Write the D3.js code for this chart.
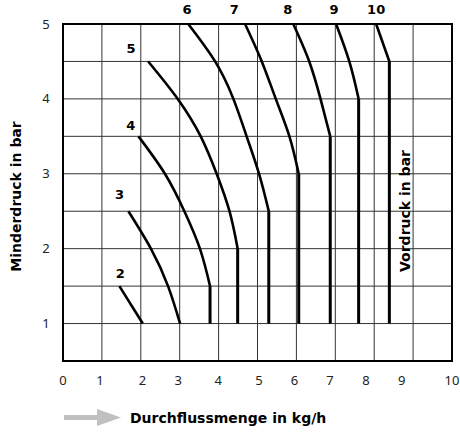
<!DOCTYPE html>
<html>
<head>
<meta charset="utf-8">
<script src="https://cdn.jsdelivr.net/npm/d3@7"></script>
<style>
    body { margin: 0; background: #fff; }
    #chart { width: 460px; height: 432px; }
    text { font-family: "DejaVu Sans", sans-serif; }
</style>
</head>
<body>
<div id="chart"></div>
<script>
// Vordruck (inlet pressure) per curve, in bar
const inletPressures = ["2", "3", "4", "5", "6", "7", "8", "9", "10"];

// flow (kg/h) along each curve, from its upper end down to the kink
const curveFlows = [
    [1.45, 2.05],
    [1.68, 2.26, 2.70, 3.01],
    [1.94, 2.62, 3.12, 3.52, 3.78],
    [2.19, 2.95, 3.54, 3.95, 4.28, 4.49],
    [3.22, 3.91, 4.38, 4.72, 5.04, 5.29],
    [4.68, 5.11, 5.47, 5.82, 6.06],
    [5.92, 6.33, 6.62, 6.87],
    [7.02, 7.36, 7.60],
    [8.05, 8.39]
];

// Minderdruck (outlet pressure) at the same points, in bar
const curvePressures = [
    [1.5, 1.0],
    [2.5, 2.0, 1.5, 1.0],
    [3.5, 3.0, 2.5, 2.0, 1.5],
    [4.5, 4.0, 3.5, 3.0, 2.5, 2.0],
    [5.0, 4.5, 4.0, 3.5, 3.0, 2.5],
    [5.0, 4.5, 4.0, 3.5, 3.0],
    [5.0, 4.5, 4.0, 3.5],
    [5.0, 4.5, 4.0],
    [5.0, 4.5]
];

// where each curve's number sits
const labelFlows = [1.47, 1.45, 1.74, 1.75, 3.19, 4.40, 5.78, 6.97, 8.05];
const labelPressures = [1.67, 2.72, 3.65, 4.68, 5.19, 5.19, 5.19, 5.19, 5.19];

const minPressure = 1;

const xTickLabels = ["0", "1", "2", "3", "4", "5", "6", "7", "8", "9", "10"];
const xTickAt = [0, 0.95, 2.04, 2.96, 3.99, 5.04, 5.95, 6.86, 7.79, 8.71, 10.0];
const yTickLabels = [1, 2, 3, 4, 5];

function renderChart() {
    const container = d3.select("#chart");
    container.selectAll("*").remove();

    const width = 460;
    const height = 432;

    const svg = container.append("svg")
        .attr("width", width)
        .attr("height", height);

    const x = d3.scaleLinear().domain([0, 10]).range([63, 452]);
    const y = d3.scaleLinear().domain([0.5, 5]).range([361, 24]);

    // grid
    svg.append("g")
        .selectAll("line")
        .data(x.ticks(10))
        .enter().append("line")
        .attr("x1", d => x(d)).attr("x2", d => x(d))
        .attr("y1", y(0.5)).attr("y2", y(5))
        .attr("stroke", "#333")
        .attr("stroke-width", 1);

    svg.append("g")
        .selectAll("line")
        .data(d3.range(0.5, 5.01, 0.5))
        .enter().append("line")
        .attr("x1", x(0)).attr("x2", x(10))
        .attr("y1", d => y(d)).attr("y2", d => y(d))
        .attr("stroke", "#333")
        .attr("stroke-width", 1);

    svg.append("rect")
        .attr("x", x(0))
        .attr("y", y(5))
        .attr("width", x(10) - x(0))
        .attr("height", y(0.5) - y(5))
        .attr("fill", "none")
        .attr("stroke", "#000")
        .attr("stroke-width", 2);

    // tick labels
    svg.selectAll("text.xtick")
        .data(xTickLabels)
        .enter().append("text")
        .attr("class", "xtick")
        .attr("x", (d, i) => x(xTickAt[i]))
        .attr("y", 385)
        .attr("text-anchor", "middle")
        .style("font-family", "'Noto Sans', sans-serif")
        .style("font-size", "13px")
        .style("fill", "#222")
        .text(d => d);

    svg.selectAll("text.ytick")
        .data(yTickLabels)
        .enter().append("text")
        .attr("class", "ytick")
        .attr("x", x(0) - 17)
        .attr("y", d => y(d))
        .attr("dy", ".35em")
        .attr("text-anchor", "middle")
        .style("font-family", "'Noto Sans', sans-serif")
        .style("font-size", "13px")
        .style("fill", "#222")
        .text(d => d);

    // curves
    const line = d3.line()
        .x(d => x(d[0]))
        .y(d => y(d[1]))
        .curve(d3.curveNatural);

    const curves = inletPressures.map((p, i) => curveFlows[i].map((f, j) => [f, curvePressures[i][j]]));

    svg.append("g")
        .selectAll("path")
        .data(curves)
        .enter().append("path")
        .attr("d", line)
        .attr("fill", "none")
        .attr("stroke", "#000")
        .attr("stroke-width", 2.6);

    // vertical part below the kink
    svg.append("g")
        .selectAll("line")
        .data(curves.filter(c => c[c.length - 1][1] > minPressure))
        .enter().append("line")
        .attr("x1", d => x(d[d.length - 1][0]))
        .attr("x2", d => x(d[d.length - 1][0]))
        .attr("y1", d => y(d[d.length - 1][1]))
        .attr("y2", y(minPressure))
        .attr("stroke", "#000")
        .attr("stroke-width", 3);

    svg.selectAll("text.curve")
        .data(inletPressures)
        .enter().append("text")
        .attr("class", "curve")
        .attr("x", (d, i) => x(labelFlows[i]))
        .attr("y", (d, i) => y(labelPressures[i]))
        .attr("dy", ".35em")
        .attr("text-anchor", "middle")
        .style("font-size", "13px")
        .style("font-weight", "bold")
        .text(d => d);

    // axis titles
    svg.append("text")
        .attr("transform", `translate(16, ${(y(0.5) + y(5)) / 2 + 4}) rotate(-90)`)
        .attr("text-anchor", "middle")
        .attr("dy", ".35em")
        .style("font-size", "14px")
        .style("font-weight", "bold")
        .text("Minderdruck in bar");

    svg.append("text")
        .attr("transform", `translate(405, 211) rotate(-90)`)
        .attr("text-anchor", "middle")
        .attr("dy", ".35em")
        .style("font-size", "14px")
        .style("font-weight", "bold")
        .text("Vordruck in bar");

    // grey arrow under the x axis
    const arrow = svg.append("g").attr("fill", "#c0c0c0");
    arrow.append("rect")
        .attr("x", 64).attr("y", 415)
        .attr("width", 36).attr("height", 5);
    arrow.append("path")
        .attr("d", "M97,409 L121,417.5 L97,426 Z");

    svg.append("text")
        .attr("x", 130)
        .attr("y", 423)
        .style("font-size", "14px")
        .style("font-weight", "bold")
        .text("Durchflussmenge in kg/h");
}

renderChart();
</script>
</body>
</html>
